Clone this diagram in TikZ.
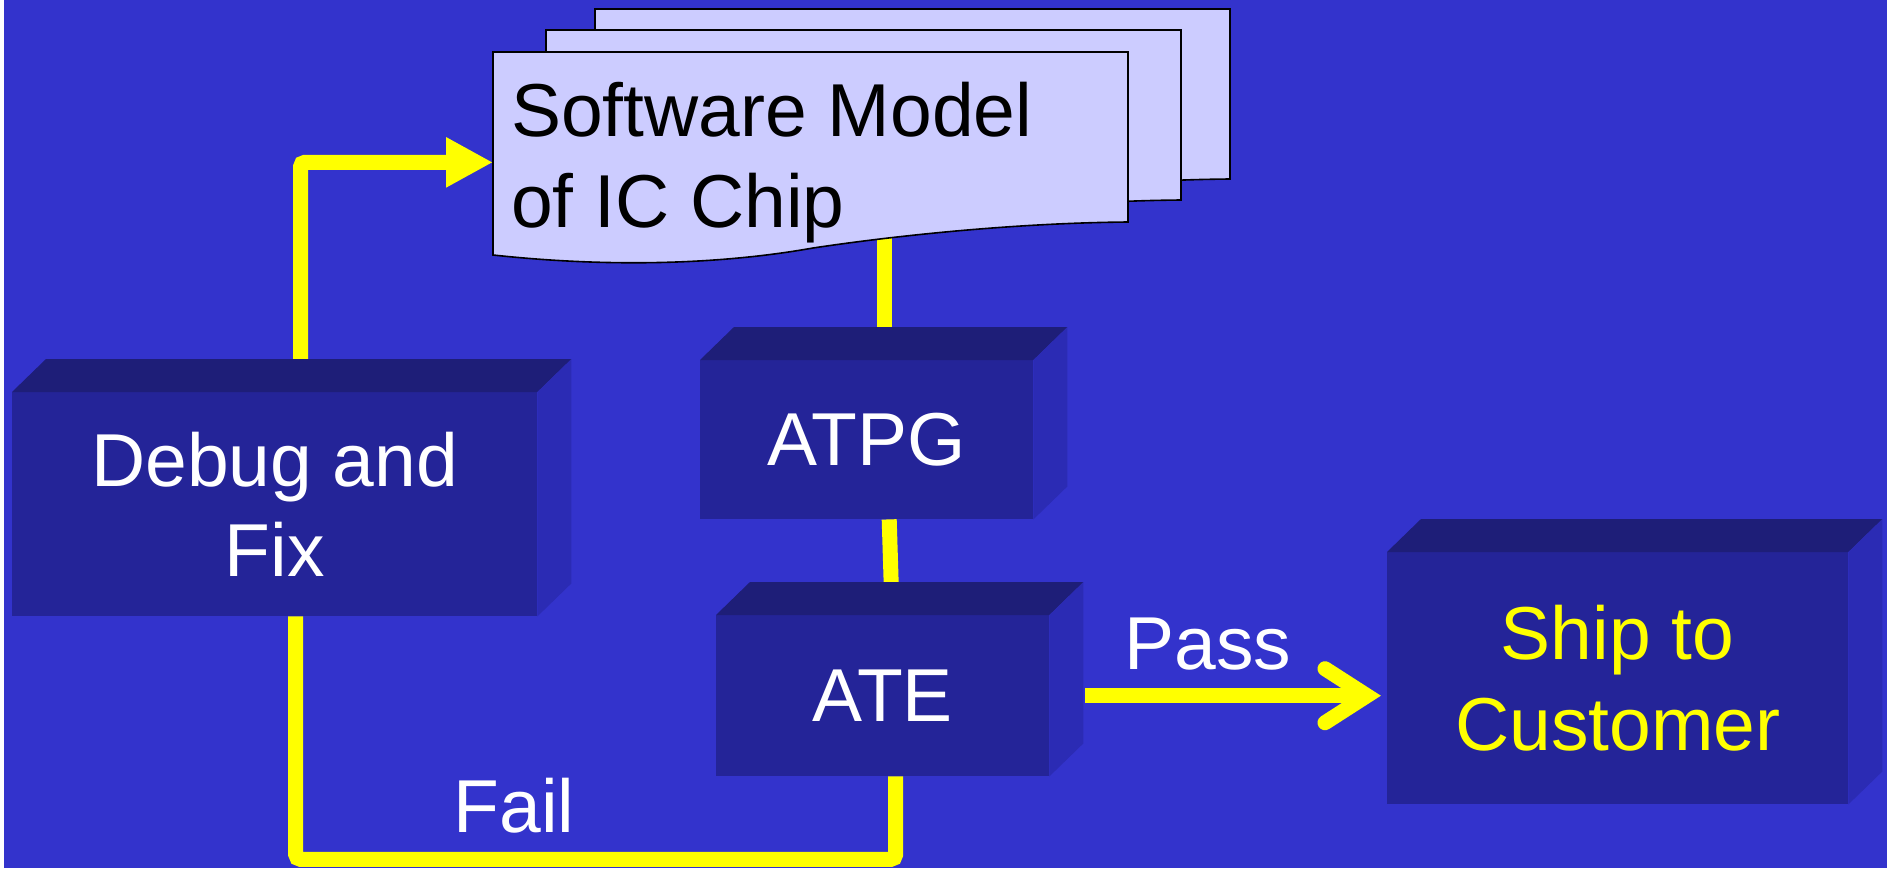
\documentclass[tikz,border=0pt]{standalone}
\usepackage{fontspec}
\setmainfont{Liberation Sans}
\usetikzlibrary{arrows.meta}
\definecolor{bgblue}{RGB}{51,51,204}
\definecolor{frontcol}{RGB}{36,36,152}
\definecolor{topcol}{RGB}{30,30,120}
\definecolor{sidecol}{RGB}{43,43,180}
\definecolor{paperfill}{RGB}{204,204,255}
\definecolor{conncol}{RGB}{255,255,0}
\pgfdeclarelayer{backlayer}
\pgfdeclarelayer{linelayer}
\pgfsetlayers{backlayer,linelayer,main}
\newcommand\boxfaces[1]{%
  \fill[topcol] (#1.north west) -- ++(34,-33) -- ([shift={(34,-33)}]#1.north east) -- (#1.north east) -- cycle;
  \fill[sidecol] (#1.north east) -- ++(34,-33) -- ([shift={(34,-33)}]#1.south east) -- (#1.south east) -- cycle;}
\tikzset{
  paper/.pic={\draw[fill=paperfill, draw=black, line width=1.6pt] (0,0) -- (635,0) -- (635,170)
     .. controls (520,171) and (400,184) .. (320,196)
     .. controls (230,212) and (120,216) .. (0,203) -- cycle;}
}
\begin{document}
\begin{tikzpicture}[x=1pt,y=-1pt,
  bigtext/.style={font=\fontsize{75pt}{90.5pt}\selectfont},
  box3d/.style={bigtext, fill=frontcol, text=white, anchor=north west, inner sep=0pt, align=center},
  conn/.style={draw=conncol, line width=15pt},
  lbl/.style={bigtext, text=white, anchor=base, inner sep=0pt}]
\useasboundingbox (0,0) rectangle (1887,868);
\begin{pgfonlayer}{backlayer}
\fill[white] (0,0) rectangle (1887,868);
\fill[bgblue] (4,0) rectangle (1887,868);
\end{pgfonlayer}

% document stack
\coordinate (docTL) at (493,52);
\pic at ([shift={(102,-43)}]docTL) {paper};
\pic at ([shift={(53,-22)}]docTL) {paper};
\pic at (docTL) {paper};
\node[bigtext, anchor=base west, align=left, inner xsep=18pt, inner ysep=0pt] (doc) at (493,227) {Software Model\\of IC Chip};

% boxes
\node[box3d, minimum width=525pt, minimum height=224pt] (debug) at (12,392) {Debug and\\Fix};
\boxfaces{debug}
\node[box3d, minimum width=333pt, minimum height=159pt] (atpg) at (700,360) {ATPG};
\boxfaces{atpg}
\node[box3d, minimum width=333pt, minimum height=161pt] (ate) at (716,615) {ATE};
\boxfaces{ate}
\node[box3d, text=conncol, minimum width=461pt, minimum height=252pt] (ship) at (1387,552) {Ship to\\Customer};
\boxfaces{ship}

% labels
\node[lbl] (pass) at (1208,669) {Pass};
\node[lbl] (fail) at (514,832) {Fail};

% connectors
\coordinate (atpgin) at ([xshift=18pt,yshift=32pt]atpg.north);
\coordinate (pt) at (ate.east -| ship.west);
\coordinate (tip) at ([xshift=-20pt]pt);
\begin{pgfonlayer}{linelayer}
\draw[conn, rounded corners=4pt, -{Triangle[length=47pt,width=47pt]}] ([xshift=26pt,yshift=33pt]debug.north) |- (doc.west);
\draw[conn] (atpgin |- doc.center) -- (atpgin);
\draw[conn] ([xshift=22.5pt]atpg.south) -- ([xshift=8.5pt,yshift=31pt]ate.north);
\draw[conn, rounded corners=5pt] ([xshift=13pt]ate.south) -- ++(0,83) -| ([xshift=21pt]debug.south);
\end{pgfonlayer}
\draw[conn] ([xshift=36pt]ate.east) -- (tip);
\draw[conn, line cap=round, line join=miter] ([shift={(-42,-27)}]tip) -- (tip) -- ([shift={(-42,27)}]tip);
\end{tikzpicture}
\end{document}
